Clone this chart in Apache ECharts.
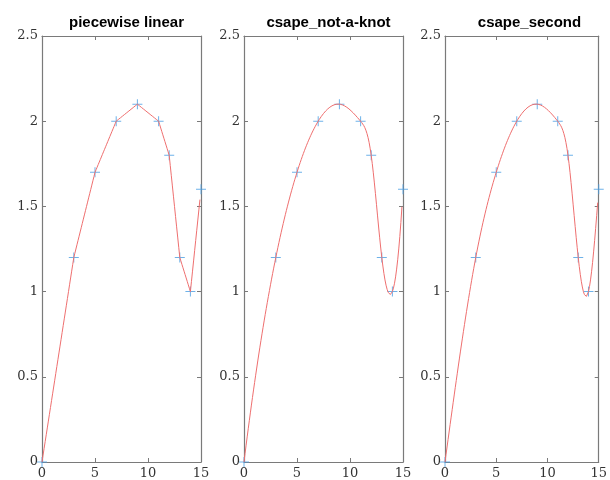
<!DOCTYPE html>
<html>
<head>
<meta charset="utf-8">
<script src="https://cdn.jsdelivr.net/npm/echarts@6/dist/echarts.min.js"></script>
<style>
  html, body { margin: 0; padding: 0; background: #fff; }
  #chart { width: 610px; height: 480px; }
</style>
</head>
<body>
<div id="chart"></div>
<script>
// 原始节点
var xKnots = [0, 3, 5, 7, 9, 11, 12, 13, 14, 15];
var yKnots = [0, 1.2, 1.7, 2.0, 2.1, 2.0, 1.8, 1.2, 1.0, 1.6];
var titles = ['piecewise linear', 'csape_not-a-knot', 'csape_second'];
var xTickLabels = ['0', '5', '10', '15'];
var yTickLabels = ['0', '0.5', '1', '1.5', '2', '2.5'];
var xEnd = 14.9; // 插值网格 0:0.1:14.9

// 解线性方程组（高斯消元）
function solve(A, b) {
    var n = b.length;
    for (var k = 0; k < n; k++) {
        var p = k;
        for (var i = k + 1; i < n; i++) if (Math.abs(A[i][k]) > Math.abs(A[p][k])) p = i;
        var t = A[k]; A[k] = A[p]; A[p] = t;
        var tb = b[k]; b[k] = b[p]; b[p] = tb;
        for (var i = k + 1; i < n; i++) {
            var f = A[i][k] / A[k][k];
            for (var j = k; j < n; j++) A[i][j] -= f * A[k][j];
            b[i] -= f * b[k];
        }
    }
    var m = new Array(n);
    for (var i = n - 1; i >= 0; i--) {
        var s = b[i];
        for (var j = i + 1; j < n; j++) s -= A[i][j] * m[j];
        m[i] = s / A[i][i];
    }
    return m;
}

// 三次样条二阶导，end: 'notaknot' 或 'second'
function splineM(x, y, end) {
    var n = x.length, h = [];
    for (var i = 0; i < n - 1; i++) h.push(x[i + 1] - x[i]);
    var A = [], b = [];
    for (var i = 0; i < n; i++) { A.push(new Array(n).fill(0)); b.push(0); }
    for (var i = 1; i < n - 1; i++) {
        A[i][i - 1] = h[i - 1];
        A[i][i] = 2 * (h[i - 1] + h[i]);
        A[i][i + 1] = h[i];
        b[i] = 6 * ((y[i + 1] - y[i]) / h[i] - (y[i] - y[i - 1]) / h[i - 1]);
    }
    if (end === 'notaknot') {
        A[0][0] = -h[1]; A[0][1] = h[0] + h[1]; A[0][2] = -h[0];
        A[n - 1][n - 3] = -h[n - 2]; A[n - 1][n - 2] = h[n - 3] + h[n - 2]; A[n - 1][n - 1] = -h[n - 3];
    } else {
        A[0][0] = 1; A[n - 1][n - 1] = 1;
    }
    return solve(A, b);
}

function evalCurve(x, y, M, xi) {
    var i = 0;
    while (i < x.length - 2 && xi > x[i + 1]) i++;
    var h = x[i + 1] - x[i], a = x[i + 1] - xi, c = xi - x[i];
    if (!M) return (y[i] * a + y[i + 1] * c) / h;
    return M[i] * a * a * a / (6 * h) + M[i + 1] * c * c * c / (6 * h) +
        (y[i] / h - M[i] * h / 6) * a + (y[i + 1] / h - M[i + 1] * h / 6) * c;
}

function curve(M) {
    var out = [];
    for (var k = 0; k <= Math.round(xEnd * 10); k++) {
        var xi = k / 10;
        out.push([xi, evalCurve(xKnots, yKnots, M, xi)]);
    }
    return out;
}

var curves = [curve(null), curve(splineM(xKnots, yKnots, 'notaknot')), curve(splineM(xKnots, yKnots, 'second'))];
var knotPts = xKnots.map(function (v, i) { return [v, yKnots[i]]; });

var chart = echarts.init(document.getElementById('chart'));
var lefts = [42, 244, 445];
var gw = 159;
var axisCol = '#7a7a7a';
var labelFont = { color: '#333', fontSize: 13, fontFamily: 'DejaVu Serif' };
var plusPath = 'path://M0,4.5H10V5.5H0Z M4.5,0H5.5V10H4.5Z';

var option = { animation: false, title: [], grid: [], xAxis: [], yAxis: [], series: [] };

for (var g = 0; g < 3; g++) {
    option.title.push({
        text: titles[g],
        left: lefts[g] + gw / 2,
        top: 10,
        textAlign: 'center',
        textStyle: { fontSize: 15, fontWeight: 'bold', color: '#000', fontFamily: 'Liberation Sans' }
    });
    option.grid.push({ left: lefts[g], top: 36, width: gw, height: 428 });
    ['bottom', 'top'].forEach(function (pos) {
        option.xAxis.push({
            type: 'value', gridIndex: g, position: pos, min: 0, max: 15, interval: 5,
            axisLine: { show: true, onZero: false, lineStyle: { color: axisCol, width: 1.2 } },
            axisTick: { show: true, inside: true, length: 4, lineStyle: { color: axisCol } },
            splitLine: { show: false },
            axisLabel: pos === 'bottom' ? Object.assign({ margin: 5, formatter: function (v) { return xTickLabels[v / 5]; } }, labelFont) : { show: false }
        });
    });
    ['left', 'right'].forEach(function (pos) {
        option.yAxis.push({
            type: 'value', gridIndex: g, position: pos, min: 0, max: 2.5, interval: 0.5,
            axisLine: { show: true, onZero: false, lineStyle: { color: axisCol, width: 1.2 } },
            axisTick: { show: true, inside: true, length: 4, lineStyle: { color: axisCol } },
            splitLine: { show: false },
            axisLabel: pos === 'left' ? Object.assign({ margin: 4, formatter: function (v) { return yTickLabels[Math.round(v / 0.5)]; } }, labelFont) : { show: false }
        });
    });
    option.series.push({
        type: 'scatter', xAxisIndex: g * 2, yAxisIndex: g * 2, data: knotPts,
        symbol: plusPath, symbolSize: 10, clip: false,
        itemStyle: { color: '#4a9fe3' }, z: 2
    });
    option.series.push({
        type: 'line', xAxisIndex: g * 2, yAxisIndex: g * 2, data: curves[g],
        showSymbol: false, symbol: 'none',
        lineStyle: { color: '#ee6f6f', width: 1 }, z: 3
    });
}

chart.setOption(option);
</script>
</body>
</html>
